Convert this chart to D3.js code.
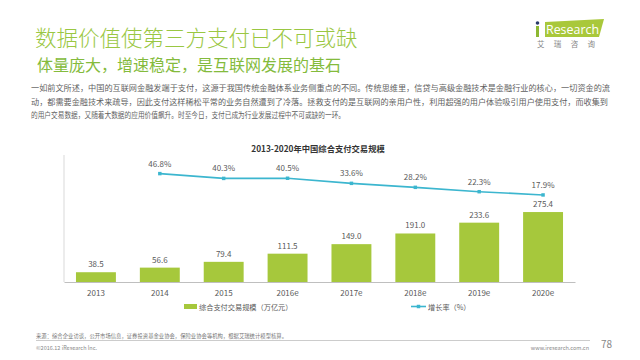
<!DOCTYPE html>
<html>
<head>
<meta charset="utf-8">
<script src="https://cdn.jsdelivr.net/npm/d3@7"></script>
<style>
  body { margin: 0; background: #fff; }
  svg { display: block; font-family: "Noto Sans CJK SC", "Noto Sans", sans-serif; }
</style>
</head>
<body>
<svg id="chart"></svg>
<script>
// data
const years = ["2013", "2014", "2015", "2016e", "2017e", "2018e", "2019e", "2020e"];
const volume = [38.5, 56.6, 79.4, 111.5, 149.0, 191.0, 233.6, 275.4];
const growth = [null, 46.8, 40.3, 40.5, 33.6, 28.2, 22.3, 17.9];

const title = "数据价值使第三方支付已不可或缺";
const subtitle = "体量庞大，增速稳定，是互联网发展的基石";
const bodyLines = [
  "一如前文所述，中国的互联网金融发端于支付，这源于我国传统金融体系业务侧重点的不同。传统思维里，信贷与高级金融技术是金融行业的核心，一切资金的流",
  "动，都需要金融技术来疏导，因此支付这样稀松平常的业务自然遭到了冷落。拯救支付的是互联网的亲用户性，利用超强的用户体验吸引用户使用支付，而收集到",
  "的用户交易数据，又随着大数据的应用价值飙升。时至今日，支付已成为行业发展过程中不可或缺的一环。"
];
const chartTitle = "2013-2020年中国综合支付交易规模";
const legendBar = "综合支付交易规模（万亿元）";
const legendLine = "增长率（%）";
const source = "来源：综合企业访谈，公开市场信息，证券投资基金业协会，保险业协会等机构，根据艾瑞统计模型核算。";

const W = 640, H = 360;
const svg = d3.select("#chart").attr("width", W).attr("height", H);

const green = "#a6c83c";
const teal = "#3cb6cf";

// header
svg.append("text").attr("x", 35).attr("y", 46)
  .attr("font-size", 21.5).attr("font-weight", 300).attr("fill", "#9ac742").text(title);
svg.append("text").attr("x", 37).attr("y", 71)
  .attr("font-size", 16).attr("fill", "#84bb3c").text(subtitle);

// logo
const logo = svg.append("g");
logo.append("polygon")
  .attr("points", "545,22 604,19 599,37 545,37")
  .attr("fill", "#a9c83b");
logo.append("circle").attr("cx", 537.5).attr("cy", 23).attr("r", 1.8).attr("fill", "#2b3b6b");
logo.append("rect").attr("x", 536).attr("y", 26).attr("width", 3).attr("height", 11).attr("fill", "#8db832");
logo.append("text").attr("x", 546).attr("y", 34)
  .attr("font-family", "Open Sans, sans-serif")
  .attr("font-size", 13).attr("fill", "#fff")
  .attr("textLength", 53).attr("lengthAdjust", "spacingAndGlyphs")
  .text("Research");
logo.append("text").attr("x", 537).attr("y", 47)
  .attr("font-size", 7.5).attr("fill", "#888")
  .attr("textLength", 58)
  .text("艾瑞咨询");

// body text
const bodyEnds = [610, 608, 345];
svg.append("g").selectAll("text")
  .data(bodyLines)
  .join("text")
  .attr("x", 31)
  .attr("y", (d, i) => 91 + i * 13.5)
  .attr("font-size", 8.4)
  .attr("fill", "#5f5f5f")
  .attr("textLength", (d, i) => bodyEnds[i] - 31)
  .attr("lengthAdjust", "spacingAndGlyphs")
  .text(d => d);

// chart
const x = d3.scaleBand().domain(years).range([64, 575])
  .paddingInner(0.375).paddingOuter(0.1875);
const yBar = d3.scaleLinear().domain([0, 500]).range([282, 155]);
const yLine = d3.scaleLinear().domain([-100, 72]).range([282, 155]);

svg.append("text").attr("x", 318).attr("y", 152)
  .attr("text-anchor", "middle").attr("font-size", 8.3)
  .attr("font-weight", "bold").attr("fill", "#333")
  .text(chartTitle);

// left axis line
svg.append("line").attr("x1", 64).attr("x2", 64)
  .attr("y1", 155).attr("y2", 282)
  .attr("stroke", "#d9d9d9");

svg.append("g").selectAll("rect")
  .data(volume)
  .join("rect")
  .attr("x", (d, i) => x(years[i]))
  .attr("width", x.bandwidth())
  .attr("y", d => yBar(d))
  .attr("height", d => yBar(0) - yBar(d))
  .attr("fill", green);

svg.append("g").selectAll("text")
  .data(volume)
  .join("text")
  .attr("x", (d, i) => x(years[i]) + x.bandwidth() / 2)
  .attr("y", d => yBar(d) - 5)
  .attr("text-anchor", "middle")
  .attr("font-size", 8)
  .attr("fill", "#595959")
  .text(d => d3.format(".1f")(d));

// x axis
const xAxis = svg.append("g")
  .attr("transform", "translate(0,282)")
  .call(d3.axisBottom(x).tickSize(0).tickPadding(8));
xAxis.select(".domain").attr("stroke", "#bfbfbf");
xAxis.selectAll("text").attr("font-size", 8).attr("fill", "#595959")
  .attr("font-family", "Noto Sans CJK SC, sans-serif");

// growth line
const pts = growth.map((g, i) => ({ year: years[i], g })).filter(d => d.g != null);
const line = d3.line()
  .x(d => x(d.year) + x.bandwidth() / 2)
  .y(d => yLine(d.g));
svg.append("path").datum(pts)
  .attr("d", line)
  .attr("fill", "none")
  .attr("stroke", teal)
  .attr("stroke-width", 1.6);
svg.append("g").selectAll("path")
  .data(pts)
  .join("path")
  .attr("d", d3.symbol(d3.symbolSquare, 12))
  .attr("transform", d => `translate(${x(d.year) + x.bandwidth() / 2},${yLine(d.g)})`)
  .attr("fill", teal);
svg.append("g").selectAll("text")
  .data(pts)
  .join("text")
  .attr("x", d => x(d.year) + x.bandwidth() / 2)
  .attr("y", d => yLine(d.g) - 7)
  .attr("text-anchor", "middle")
  .attr("font-size", 8)
  .attr("fill", "#595959")
  .text(d => d3.format(".1f")(d.g) + "%");

// legend
const lg = svg.append("g");
lg.append("rect").attr("x", 184).attr("y", 304).attr("width", 13).attr("height", 5).attr("fill", green);
lg.append("text").attr("x", 199).attr("y", 309.5)
  .attr("font-size", 7.2).attr("fill", "#595959").text(legendBar);
lg.append("line").attr("x1", 411).attr("x2", 426).attr("y1", 306.5).attr("y2", 306.5)
  .attr("stroke", teal).attr("stroke-width", 1.6);
lg.append("path").attr("d", d3.symbol(d3.symbolSquare, 12))
  .attr("transform", "translate(418.5,306.5)").attr("fill", teal);
lg.append("text").attr("x", 428).attr("y", 309.5)
  .attr("font-size", 7.2).attr("fill", "#595959").text(legendLine);

// footer
svg.append("text").attr("x", 36).attr("y", 337.5)
  .attr("font-size", 5.5).attr("fill", "#777")
  .attr("textLength", 251).attr("lengthAdjust", "spacingAndGlyphs")
  .text(source);
svg.append("line").attr("x1", 36).attr("x2", 590).attr("y1", 340.5).attr("y2", 340.5)
  .attr("stroke", "#bfbfbf").attr("stroke-width", 0.8);
svg.append("text").attr("x", 36).attr("y", 350)
  .attr("font-size", 5.5).attr("fill", "#888").text("©2016.12 iResearch Inc.");
svg.append("text").attr("x", 589).attr("y", 350)
  .attr("text-anchor", "end")
  .attr("font-size", 5.5).attr("fill", "#888").text("www.iresearch.com.cn");
svg.append("text").attr("x", 601).attr("y", 348)
  .attr("font-size", 10).attr("fill", "#888").text("78");
</script>
</body>
</html>
